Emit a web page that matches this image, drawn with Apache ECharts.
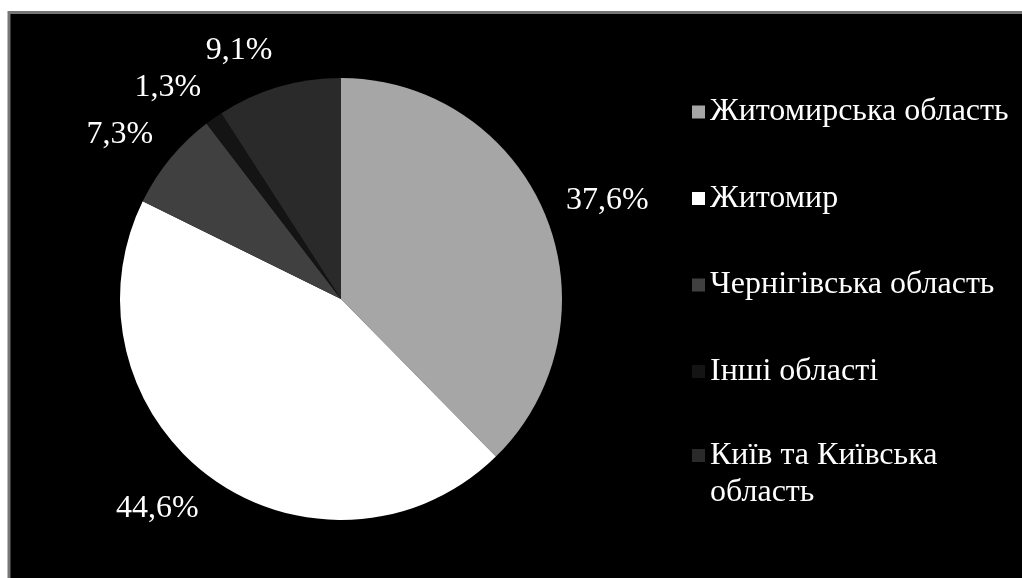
<!DOCTYPE html>
<html>
<head>
<meta charset="utf-8">
<title>Розподіл за регіонами</title>
<script src="https://cdn.jsdelivr.net/npm/echarts@6/dist/echarts.min.js"></script>
<style>
  html, body { margin: 0; padding: 0; background: #ffffff; }
  #chart { width: 1022px; height: 578px; }
</style>
</head>
<body>
<div id="chart"></div>
<script>
// Regions and their shares, %
const regions = [
  'Житомирська область',
  'Житомир',
  'Чернігівська область',
  'Інші області',
  'Київ та Київська\nобласть'
];
const shares = [37.6, 44.6, 7.3, 1.3, 9.1];
const sliceColors = ['#a6a6a6', '#ffffff', '#404040', '#141414', '#2a2a2a'];

// Pie geometry (pixels)
const CX = 341, CY = 299, R = 221;
const LABEL_GAP = 22;
const FONT = '"Liberation Serif", "Times New Roman", serif';
const FONT_SIZE = 32;
const LINE_H = 37;

const total = shares.reduce((a, b) => a + b, 0);
function midAngle(i) {
  let before = 0;
  for (let k = 0; k < i; k++) before += shares[k];
  return (before + shares[i] / 2) / total * Math.PI * 2;
}

const legendBase = {
  orient: 'vertical',
  left: 692,
  padding: 0,
  itemWidth: 13,
  itemHeight: 13,
  itemGap: 49.5,
  icon: 'rect',
  selectedMode: false,
  textStyle: {
    color: '#ffffff',
    fontFamily: FONT,
    fontSize: FONT_SIZE,
    lineHeight: LINE_H
  }
};

const chart = echarts.init(document.getElementById('chart'), null, { renderer: 'canvas' });

chart.setOption({
  backgroundColor: '#ffffff',
  animation: false,
  graphic: [{
    type: 'rect',
    z: -10,
    shape: { x: 9, y: 12.5, width: 1100, height: 700 },
    style: { fill: '#000000', stroke: '#767676', lineWidth: 3 }
  }],
  legend: [
    Object.assign({}, legendBase, {
      top: 93.5,
      data: regions.slice(0, 4)
    }),
    // the two-line entry: an empty leading line keeps the first text line level with the marker
    Object.assign({}, legendBase, {
      top: 400,
      formatter: name => '\n' + name,
      data: [regions[4]]
    })
  ],
  series: [{
    type: 'pie',
    center: [CX, CY],
    radius: R,
    startAngle: 90,
    clockwise: true,
    avoidLabelOverlap: false,
    itemStyle: { borderWidth: 0 },
    emphasis: { disabled: true },
    label: {
      show: true,
      position: 'outside',
      color: '#ffffff',
      fontFamily: FONT,
      fontSize: FONT_SIZE,
      formatter: p => p.value.toFixed(1).replace('.', ',') + '%'
    },
    labelLine: { show: false },
    // value labels sit just outside the rim, pushed sideways off the pie
    labelLayout: function (p) {
      const a = midAngle(p.dataIndex);
      const s = Math.sin(a), c = Math.cos(a);
      const d = R + LABEL_GAP;
      const w = p.labelRect.width, h = FONT_SIZE;
      return {
        x: CX + s * d + Math.sign(s) * w / 2,
        y: CY - c * d - c * h / 2,
        align: 'center',
        verticalAlign: 'middle'
      };
    },
    data: regions.map((name, i) => ({
      name: name,
      value: shares[i],
      itemStyle: { color: sliceColors[i] }
    }))
  }]
});
</script>
</body>
</html>
